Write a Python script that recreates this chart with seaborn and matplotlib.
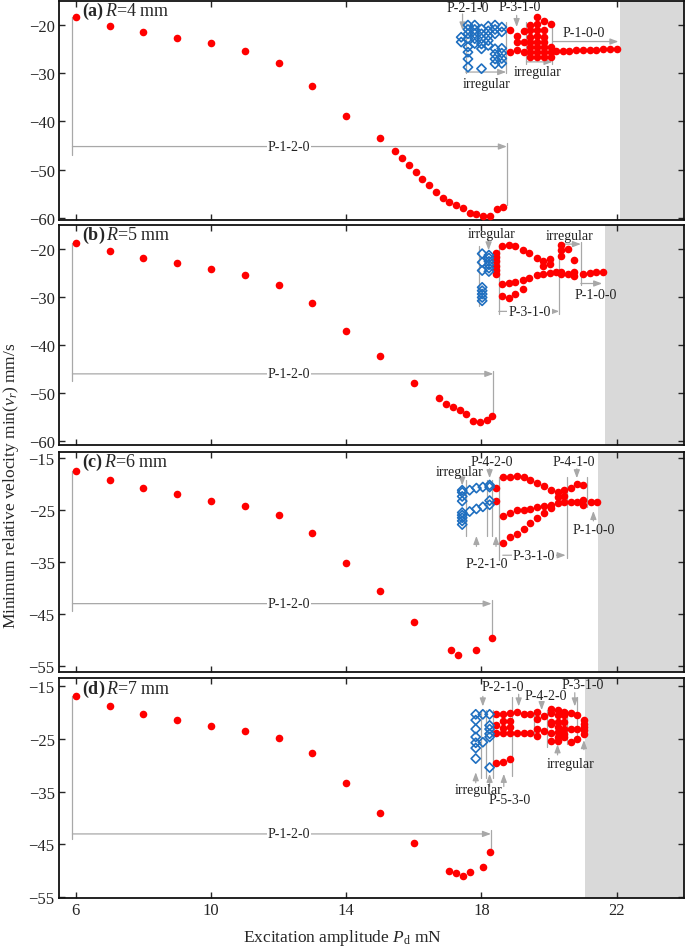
import numpy as np
import pandas as pd
import matplotlib
matplotlib.use('Agg')
import matplotlib.pyplot as plt
import seaborn as sns

# ---------------- data ----------------
# main P-1-2-0 branch of every panel
a_main_x = [6, 7, 8, 9, 10, 11, 12, 13, 14, 15, 15.45, 15.65, 15.85, 16.05, 16.25, 16.45,
            16.65, 16.85, 17.05, 17.25, 17.45, 17.65, 17.85, 18.05, 18.25, 18.45, 18.65]
a_main_y = [-18.4, -20.2, -21.6, -22.7, -23.9, -25.4, -28.0, -32.6, -38.9, -43.5, -46.2, -47.6,
            -49.1, -50.5, -51.9, -53.2, -54.5, -55.8, -56.6, -57.3, -57.9, -58.9, -59.2, -59.5,
            -59.5, -58.2, -57.6]
b_main_x = [6, 7, 8, 9, 10, 11, 12, 13, 14, 15, 16, 16.75, 16.95, 17.15, 17.35, 17.55, 17.75,
            17.95, 18.15, 18.3]
b_main_y = [-18.75, -20.4, -21.9, -22.9, -24.2, -25.4, -27.5, -31.2, -37.1, -42.3, -47.9, -51.0,
            -52.3, -52.8, -53.5, -54.4, -55.9, -56.1, -55.7, -54.8]
c_main_x = [6, 7, 8, 9, 10, 11, 12, 13, 14, 15, 16, 17.1, 17.3, 17.85, 18.3]
c_main_y = [-17.5, -19.3, -20.8, -22.0, -23.2, -24.3, -25.9, -29.4, -35.2, -40.6, -46.5, -51.9,
            -52.9, -51.9, -49.6]
d_main_x = [6, 7, 8, 9, 10, 11, 12, 13, 14, 15, 16, 17.05, 17.25, 17.45, 17.65, 18.05, 18.25]
d_main_y = [-16.9, -18.8, -20.2, -21.3, -22.5, -23.5, -24.8, -27.7, -33.3, -39.0, -44.8, -50.0,
            -50.5, -50.9, -50.2, -49.2, -46.5]

# open blue diamonds (x -> list of minima)
a_blue = {17.4: [-22.6, -23.6],
          17.6: [-20.1, -21.0, -21.9, -22.9, -24.6, -25.7, -27.1, -28.8],
          17.8: [-20.1, -21.0, -21.9, -22.9, -23.9],
          18.0: [-20.9, -21.9, -22.9, -24.0, -25.0, -29.1],
          18.2: [-20.3, -21.3, -22.3, -23.3, -24.3],
          18.4: [-20.1, -21.0, -21.9, -25.0, -26.1, -27.1, -28.1],
          18.6: [-20.5, -21.5, -24.9, -25.9, -27.0, -28.0]}
b_blue = {18.02: [-21.0, -22.8, -24.5, -28.0, -28.7, -29.4, -30.1, -30.8],
          18.22: [-21.3, -21.9, -22.6, -23.3, -24.0, -24.7]}
c_blue = {17.43: [-21.2, -21.6, -22.4, -23.3, -25.5, -26.0, -26.5, -27.1, -27.8],
          17.65: [-21.2, -25.3],
          17.85: [-20.8, -24.8],
          18.04: [-20.6, -24.4],
          18.24: [-20.2, -20.6, -23.2, -24.0]}
d_blue = {17.83: [-20.3, -21.4, -23.1, -24.6, -25.7, -26.7, -28.7],
          18.04: [-20.3, -25.6],
          18.24: [-20.3, -22.4, -23.1, -24.0, -24.6, -30.4]}

# red dots after the P-1-2-0 branch (x -> list of minima)
a_red = {18.85: [-21.2, -25.7],
         19.05: [-22.3, -23.6, -25.3],
         19.25: [-21.4, -23.6, -25.7],
         19.45: [-20.1, -21.2, -22.6, -23.6, -24.7, -25.7, -26.7],
         19.65: [-18.5, -19.9, -21.2, -22.3, -23.6, -24.7, -25.7, -26.7],
         19.85: [-19.2, -21.2, -22.6, -23.6, -24.7, -25.7, -26.7],
         20.05: [-19.9, -24.7, -25.7, -26.7],
         20.2: [-25.4], 20.4: [-25.4], 20.6: [-25.35], 20.8: [-25.3], 21.0: [-25.3],
         21.2: [-25.25], 21.4: [-25.2], 21.6: [-25.1], 21.8: [-25.05], 22.0: [-25.0]}
b_red = {18.44: [-20.8, -21.7, -22.5, -23.6, -24.4, -25.2],
         18.62: [-19.3, -27.3, -29.9],
         18.81: [-19.2, -27.1, -30.3],
         19.0: [-19.5, -26.8, -29.4],
         19.22: [-20.2, -26.4, -28.3],
         19.42: [-20.8, -26.0],
         19.63: [-21.8, -25.4],
         19.83: [-22.5, -23.5, -25.2],
         20.02: [-22.2, -23.2, -25.0],
         20.2: [-24.8],
         20.35: [-19.2, -20.3, -21.4, -24.9, -25.3],
         20.55: [-20.0, -25.2],
         20.75: [-22.4, -24.9, -25.6],
         21.0: [-25.2], 21.2: [-25.1], 21.4: [-24.9], 21.6: [-24.8]}
c_red = {18.43: [-20.8, -23.3],
         18.65: [-18.7, -26.1, -31.3],
         18.85: [-18.6, -25.5, -30.2],
         19.05: [-18.5, -25.1, -29.6],
         19.25: [-18.7, -25.0, -28.6],
         19.45: [-19.2, -24.8, -27.5],
         19.65: [-19.8, -24.5, -26.6],
         19.85: [-20.4, -24.3, -25.6],
         20.05: [-21.1, -24.0, -24.6],
         20.25: [-21.5, -22.5, -23.7],
         20.45: [-21.1, -22.3, -23.5],
         20.64: [-20.8, -23.5],
         20.82: [-20.1, -23.5],
         21.0: [-20.2, -23.0, -24.0],
         21.23: [-23.5], 21.43: [-23.5]}
d_red = {18.44: [-20.3, -22.4, -23.8, -29.6],
         18.63: [-20.3, -21.6, -22.9, -23.8, -29.4],
         18.83: [-20.1, -21.6, -22.7, -23.8, -28.7],
         19.05: [-19.8, -23.8],
         19.25: [-20.3, -23.8],
         19.45: [-20.3, -23.8],
         19.64: [-19.9, -21.2, -23.1, -24.4],
         19.84: [-20.6, -23.5],
         20.05: [-19.3, -20.1, -21.7, -22.2, -23.8, -25.3],
         20.25: [-19.4, -20.4, -21.7, -22.7, -23.7, -24.6, -25.3],
         20.45: [-19.8, -20.4, -21.7, -23.0, -24.0, -24.6],
         20.64: [-20.1, -23.0, -25.6],
         20.84: [-20.4, -23.0, -24.9],
         21.03: [-21.4, -22.1, -22.7, -23.3, -24.0]}

radii = ['4', '5', '6', '7']
letters = ['a', 'b', 'c', 'd']
shade_start = [22.1, 21.65, 21.45, 21.05]

RED = '#ff0000'
BLUE = '#1f6fc0'
GRAY = '#a8a8a8'

sns.set_theme(style='ticks')
plt.rcParams['font.family'] = ['Liberation Serif', 'DejaVu Serif']
plt.rcParams['mathtext.fontset'] = 'custom'
plt.rcParams['mathtext.rm'] = 'Liberation Serif'
plt.rcParams['mathtext.it'] = 'Liberation Serif:italic'
plt.rcParams['mathtext.bf'] = 'Liberation Serif:bold'


def expand(d):
    xs, ys = [], []
    for k, v in d.items():
        xs += [k] * len(v)
        ys += v
    return pd.DataFrame({'x': xs, 'y': ys})


def vline(ax, x, y0, y1):
    ax.plot([x, x], [y0, y1], color=GRAY, lw=0.9, zorder=1)


def arrow(ax, x0, y0, x1, y1):
    ax.annotate('', xy=(x1, y1), xytext=(x0, y0),
                arrowprops=dict(arrowstyle='-|>,head_length=0.4,head_width=0.15',
                                color=GRAY, lw=0.9, shrinkA=0, shrinkB=0), zorder=1)


def note(ax, x, y, s, bg=False):
    kw = dict(ha='center', va='center', fontsize=10, color='#222222', zorder=4)
    if bg:
        kw['bbox'] = dict(fc='white', ec='none', pad=0.6)
    ax.text(x, y, s, **kw)


fig = plt.figure(figsize=(6.85, 9.53), dpi=100)
boxes = [[0.086, 0.768, 0.913, 0.230],
         [0.086, 0.532, 0.913, 0.231],
         [0.086, 0.294, 0.913, 0.231],
         [0.086, 0.057, 0.913, 0.230]]
ylims = [(-60.4, -15.1), (-60.8, -15.0), (-56.1, -13.8), (-55.1, -13.5)]
yticks = [[-20, -30, -40, -50, -60], [-20, -30, -40, -50, -60],
          [-15, -25, -35, -45, -55], [-15, -25, -35, -45, -55]]
mains = [(a_main_x, a_main_y), (b_main_x, b_main_y), (c_main_x, c_main_y), (d_main_x, d_main_y)]
blues = [a_blue, b_blue, c_blue, d_blue]
reds = [a_red, b_red, c_red, d_red]
p120 = [(-45.2, -47.0, 18.75, -44.5, -57.3), (-46.0, -47.5, 18.35, -45.3, -55.0),
        (-43.0, -44.5, 18.3, -42.3, -49.3), (-43.0, -44.0, 18.28, -42.3, -46.0)]

axes = []
for i in range(4):
    ax = fig.add_axes(boxes[i])
    axes.append(ax)
    ax.axvspan(shade_start[i], 24, color='#d9d9d9', lw=0, zorder=0)

    mx, my = mains[i]
    red = pd.concat([pd.DataFrame({'x': mx, 'y': my}), expand(reds[i])])
    sns.scatterplot(data=red, x='x', y='y', color=RED, s=30, linewidth=0, ax=ax, zorder=3)
    sns.scatterplot(data=expand(blues[i]), x='x', y='y', marker='D', color=BLUE,
                    facecolor='none', edgecolor=BLUE, s=22, linewidth=1.2, ax=ax, zorder=3)

    # P-1-2-0 bracket
    ya, ybot, xr, yr0, yr1 = p120[i]
    vline(ax, 5.9, my[0], ybot)
    arrow(ax, 5.9, ya, xr, ya)
    vline(ax, xr, yr0, yr1)
    note(ax, 12.3, ya, 'P-1-2-0', bg=True)

    ax.set_xlim(5.5, 24)
    ax.set_ylim(*ylims[i])
    ax.set_xticks([6, 10, 14, 18, 22])
    ax.set_yticks(yticks[i])
    ax.set_xlabel('')
    ax.set_ylabel('')
    ax.tick_params(direction='in', top=True, right=True, length=4, width=1,
                   labelsize=12, labelbottom=(i == 3), pad=3)
    for sp in ax.spines.values():
        sp.set_linewidth(1.3)
        sp.set_color('#111111')
    ax.text(0.037, 0.955, r'$\mathbf{(%s)}\,R$=%s mm' % (letters[i], radii[i]),
            transform=ax.transAxes, fontsize=13, va='center', ha='left', zorder=5)

# ---- panel (a) labels
ax = axes[0]
note(ax, 17.6, -16.4, 'P-2-1-0')
arrow(ax, 17.44, -17.8, 17.44, -21.2)
vline(ax, 17.53, -19.5, -30.1)
vline(ax, 18.73, -19.5, -30.1)
arrow(ax, 17.53, -29.8, 18.73, -29.8)
note(ax, 18.14, -32.2, 'irregular')
note(ax, 19.12, -16.2, 'P-3-1-0')
arrow(ax, 19.04, -18.1, 19.04, -20.5)
vline(ax, 19.33, -19.5, -28.1)
vline(ax, 20.1, -19.5, -28.1)
arrow(ax, 19.33, -27.7, 20.1, -27.7)
note(ax, 19.66, -29.7, 'irregular')
arrow(ax, 20.1, -23.5, 22.05, -23.5)
note(ax, 21.03, -21.6, 'P-1-0-0')

# ---- panel (b) labels
ax = axes[1]
note(ax, 18.29, -16.9, 'irregular')
arrow(ax, 18.21, -17.9, 18.21, -20.3)
vline(ax, 17.92, -19.3, -31.8)
vline(ax, 18.51, -19.3, -33.5)
vline(ax, 20.3, -18.5, -33.5)
arrow(ax, 18.51, -33.0, 20.3, -33.0)
note(ax, 19.42, -33.0, 'P-3-1-0', bg=True)
note(ax, 20.62, -17.2, 'irregular')
arrow(ax, 20.33, -19.0, 20.94, -19.0)
vline(ax, 20.94, -18.5, -27.5)
arrow(ax, 20.94, -27.2, 21.57, -27.2)
note(ax, 21.38, -29.5, 'P-1-0-0')

# ---- panel (c) labels
ax = axes[2]
note(ax, 17.35, -17.7, 'irregular')
arrow(ax, 17.43, -18.7, 17.43, -20.3)
note(ax, 18.3, -15.6, 'P-4-2-0')
arrow(ax, 18.24, -17.1, 18.24, -18.9)
note(ax, 20.74, -15.6, 'P-4-1-0')
arrow(ax, 20.82, -17.1, 20.82, -18.9)
for xv in [17.55, 18.16, 18.32]:
    vline(ax, xv, -19.3, -30.0)
vline(ax, 18.51, -18.7, -34.6)
vline(ax, 20.52, -18.7, -34.3)
vline(ax, 21.13, -18.7, -24.5)
note(ax, 18.17, -35.2, 'P-2-1-0')
arrow(ax, 17.85, -32.0, 17.85, -30.0)
arrow(ax, 18.43, -32.0, 18.43, -30.0)
arrow(ax, 18.63, -33.7, 20.49, -33.7)
note(ax, 19.56, -33.7, 'P-3-1-0', bg=True)
note(ax, 21.33, -28.7, 'P-1-0-0')
arrow(ax, 21.31, -27.1, 21.31, -25.2)

# ---- panel (d) labels
ax = axes[3]
note(ax, 18.63, -15.0, 'P-2-1-0')
arrow(ax, 18.04, -16.9, 18.04, -18.8)
arrow(ax, 19.1, -16.5, 19.1, -18.8)
note(ax, 19.9, -16.7, 'P-4-2-0')
arrow(ax, 19.78, -18.0, 19.78, -19.5)
note(ax, 20.99, -14.7, 'P-3-1-0')
arrow(ax, 20.76, -16.2, 20.76, -18.8)
note(ax, 20.64, -29.6, 'irregular')
arrow(ax, 20.25, -28.0, 20.25, -26.0)
arrow(ax, 21.03, -27.0, 21.03, -25.2)
note(ax, 17.9, -34.6, 'irregular')
arrow(ax, 17.83, -33.3, 17.83, -31.3)
note(ax, 18.83, -36.5, 'P-5-3-0')
arrow(ax, 18.66, -34.0, 18.66, -31.6)
arrow(ax, 18.24, -34.0, 18.24, -31.6)
for xv in [17.98, 18.14, 18.34]:
    vline(ax, xv, -19.4, -32.3)
vline(ax, 18.9, -17.0, -32.0)
vline(ax, 19.56, -19.4, -24.2)
vline(ax, 19.93, -19.4, -26.5)
vline(ax, 20.52, -19.4, -26.0)
vline(ax, 20.84, -17.0, -25.5)

fig.text(0.5, 0.016, r'Excitation amplitude $P_{\rm d}$ mN', ha='center', va='center', fontsize=12.5)
fig.text(0.016, 0.49, r'Minimum relative velocity min($v_{r}$) mm/s', rotation=90,
         ha='center', va='center', fontsize=12.5)

fig.savefig('out.png', dpi=100)
